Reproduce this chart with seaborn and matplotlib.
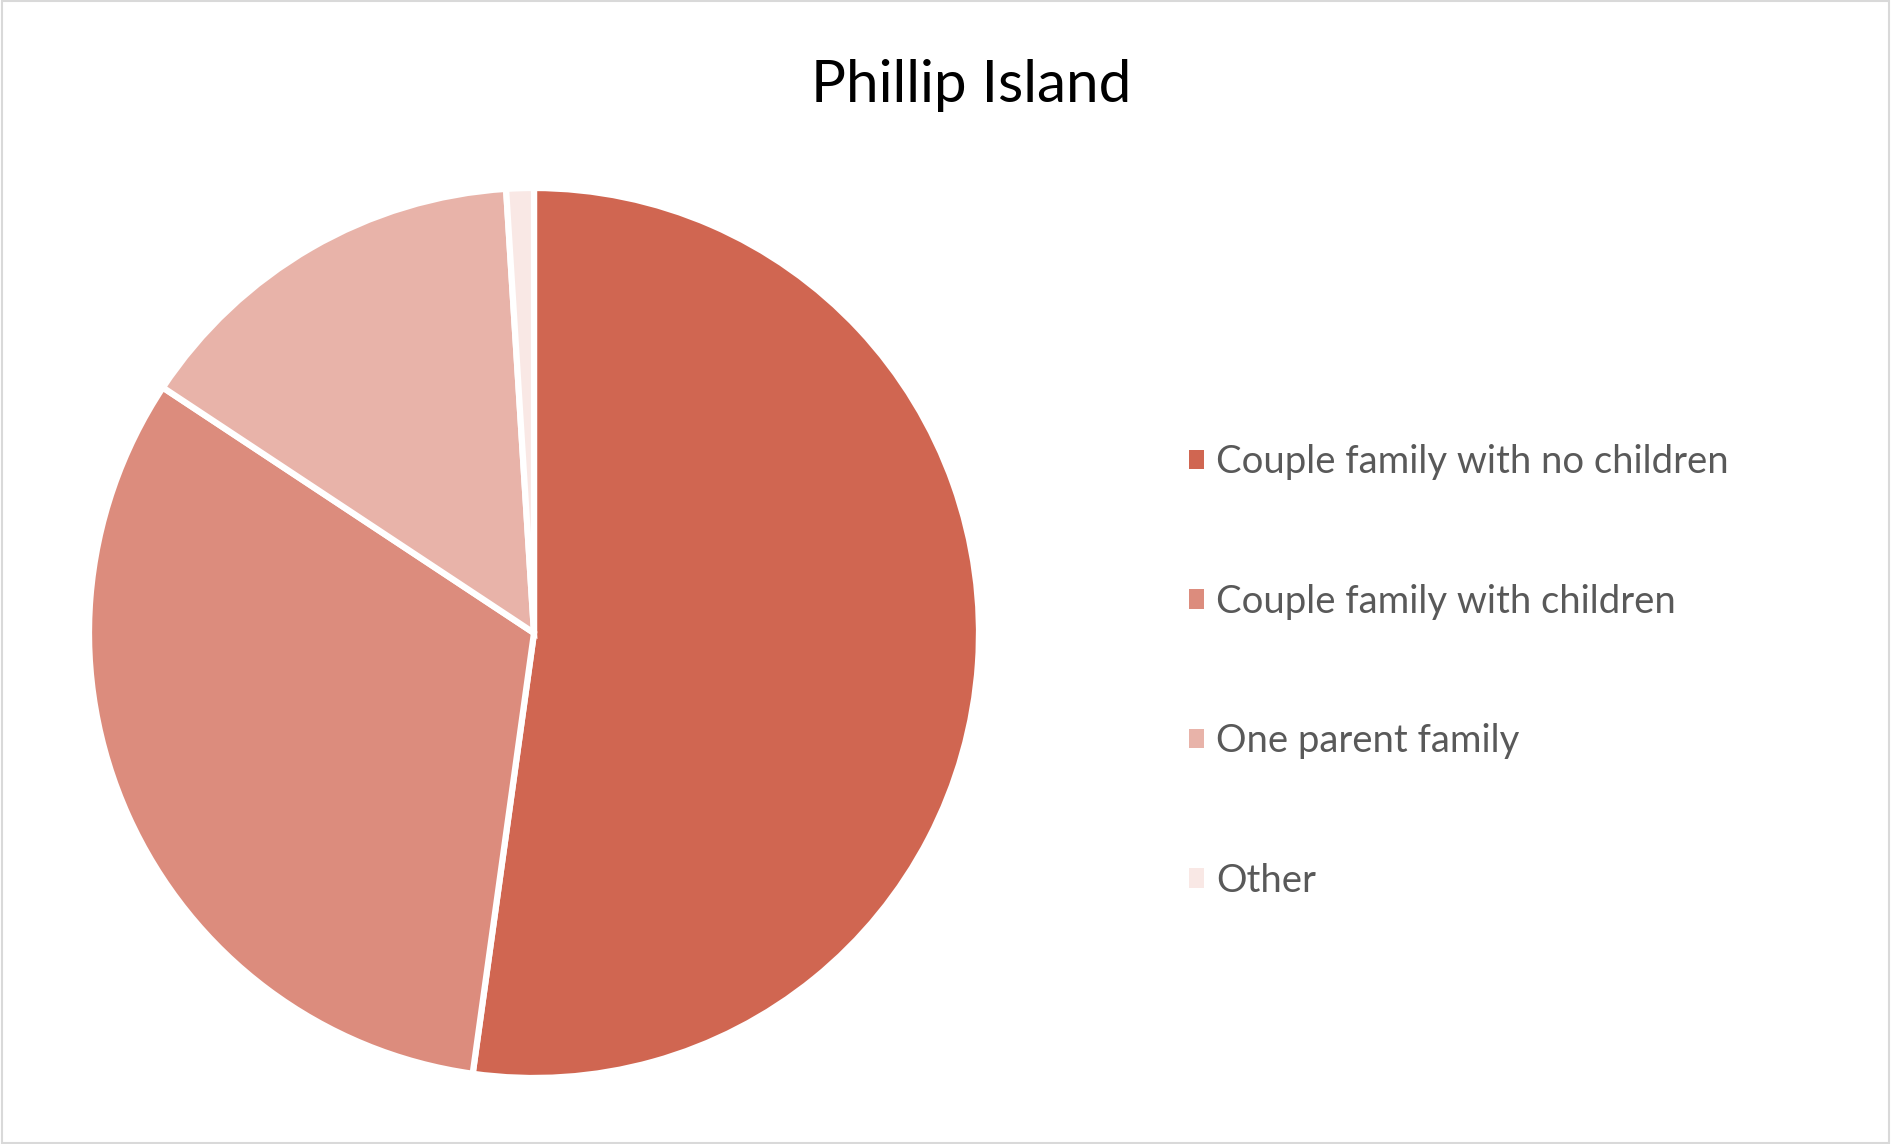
import matplotlib
matplotlib.use("Agg")
import matplotlib.pyplot as plt
import seaborn as sns

sns.set_theme(style="white")
plt.rcParams["font.family"] = ["Lato", "DejaVu Sans"]

# household composition, Phillip Island (percent)
categories = ["Couple family with no children", "Couple family with children",
              "One parent family", "Other"]
shares = [52.2, 32.1, 14.7, 1.0]
colors = ["#D06651", "#DC8C7D", "#E8B3A9", "#F9E8E5"]

W, H = 1891, 1144
fig = plt.figure(figsize=(W / 100, H / 100), dpi=100)

# pie centred at (534, 633) px, radius ~445 px
cx, cy, r = 534, 633, 445
ax = fig.add_axes([(cx - r) / W, (H - cy - r) / H, 2 * r / W, 2 * r / H])
wedges, _ = ax.pie(shares, colors=colors, startangle=90, counterclock=False,
                   radius=1, wedgeprops=dict(edgecolor="white", linewidth=4.5))
ax.set_xlim(-1.0, 1.0)
ax.set_ylim(-1.0, 1.0)
ax.set_aspect("equal")
ax.axis("off")

fig.text(971 / W, (H - 102) / H, "Phillip Island", fontsize=42, color="black",
         ha="center", va="baseline")

leg = fig.legend(wedges, categories, loc="upper left",
                 bbox_to_anchor=(1170 / W, (H - 425) / H),
                 frameon=False, fontsize=27.5, labelcolor="#595959",
                 handlelength=0.4, handleheight=0.4, handletextpad=0.3,
                 labelspacing=2.71, borderpad=0)
for h in leg.legend_handles:
    h.set_edgecolor("none")

# light grey chart border
fig.patches.append(plt.Rectangle((0.001, 0.001), 0.998, 0.998, transform=fig.transFigure,
                                 fill=False, edgecolor="#D9D9D9", linewidth=1.5))

fig.savefig("out.png", dpi=100, facecolor="white")
